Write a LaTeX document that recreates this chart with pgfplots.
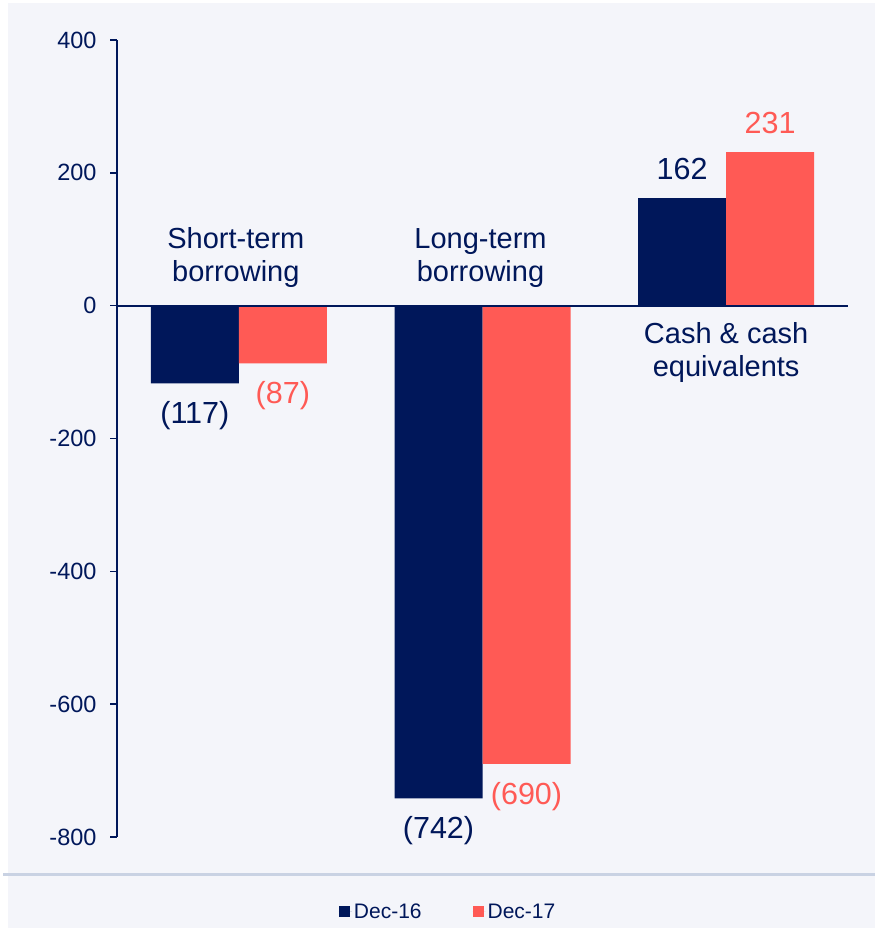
\documentclass[border=0pt]{standalone}
\usepackage{pgfplots}
\pgfplotsset{compat=1.18}
\usepackage{pgfplotstable}
\usepackage{fontspec}
\setmainfont{Liberation Sans}
\definecolor{navy}{HTML}{00175A}
\definecolor{coral}{HTML}{FF5A55}
\definecolor{bg}{HTML}{F4F5FA}
\definecolor{sepc}{HTML}{C9D2E3}

\pgfplotstableread{
x y
0 -117
1 -742
2 162
}\decsixteen
\pgfplotstableread{
x y
0 -87
1 -690
2 231
}\decseventeen

\begin{document}
\begin{tikzpicture}[x=1pt,y=1pt]
\useasboundingbox (0,0) rectangle (875,928);
\fill[white] (0,0) rectangle (875,928);
\fill[bg] (8,0) rectangle (875,925);
\draw[sepc, line width=3pt] (3,53) -- (875,53);
\begin{axis}[
  at={(117pt,91pt)}, anchor=south west,
  scale only axis, width=731pt, height=797pt,
  xmin=-0.5, xmax=2.5, ymin=-800, ymax=400,
  /pgf/number format/assume math mode=true,
  axis y line*=left, axis x line=none,
  y axis line style={navy, line width=1.6pt, -},
  ytick={-800,-600,-400,-200,0,200,400},
  yticklabels={-800,-600,-400,-200,0,200,400},
  yticklabel style={font=\fontsize{23.5}{27}\selectfont, text=navy, xshift=-10pt},
  ytick style={navy, line width=1.6pt},
  tick align=outside, major tick length=7pt,
  xtick=\empty,
  ybar=0pt, bar width=88pt,
  clip=false,
  visualization depends on={rawy \as \rawy},
  nodes near coords={\pgfmathsetmacro\absv{abs(\rawy)}\pgfmathparse{\rawy<0 ? 1 : 0}\ifnum\pgfmathresult=1 (\pgfmathprintnumber{\absv})\else\pgfmathprintnumber{\absv}\fi},
  nodes near coords align={vertical},
  every node near coord/.append style={font=\fontsize{30.5}{34}\selectfont, inner sep=18pt},
  legend style={at={(0.453,-0.094)}, anchor=center, draw=none, fill=none,
    legend columns=2, font=\fontsize{21}{24}\selectfont, text=navy,
    /tikz/every even column/.append style={column sep=49pt}},
  legend image code/.code={\fill[#1] (0pt,-5.5pt) rectangle (11pt,5.5pt); \path (0pt,0pt) -- (13pt,0pt);},
]
\addplot[fill=navy, draw=none, every node near coord/.append style={text=navy}] table[x=x,y=y]{\decsixteen};
\addplot[fill=coral, draw=none, every node near coord/.append style={text=coral}] table[x=x,y=y]{\decseventeen};
\legend{Dec-16,Dec-17}
\draw[navy, line width=2pt] (axis cs:-0.5,0) -- (axis cs:2.5,0);
\node[text=navy, align=center, font=\fontsize{29}{33}\selectfont, yshift=48pt, xshift=-3pt] at (axis cs:0,0) {Short-term\\borrowing};
\node[text=navy, align=center, font=\fontsize{29}{33}\selectfont, yshift=48pt, xshift=-2pt] at (axis cs:1,0) {Long-term\\borrowing};
\node[text=navy, align=center, font=\fontsize{29}{33}\selectfont, yshift=-47pt] at (axis cs:2,0) {Cash \& cash\\equivalents};
\end{axis}
\end{tikzpicture}
\end{document}
